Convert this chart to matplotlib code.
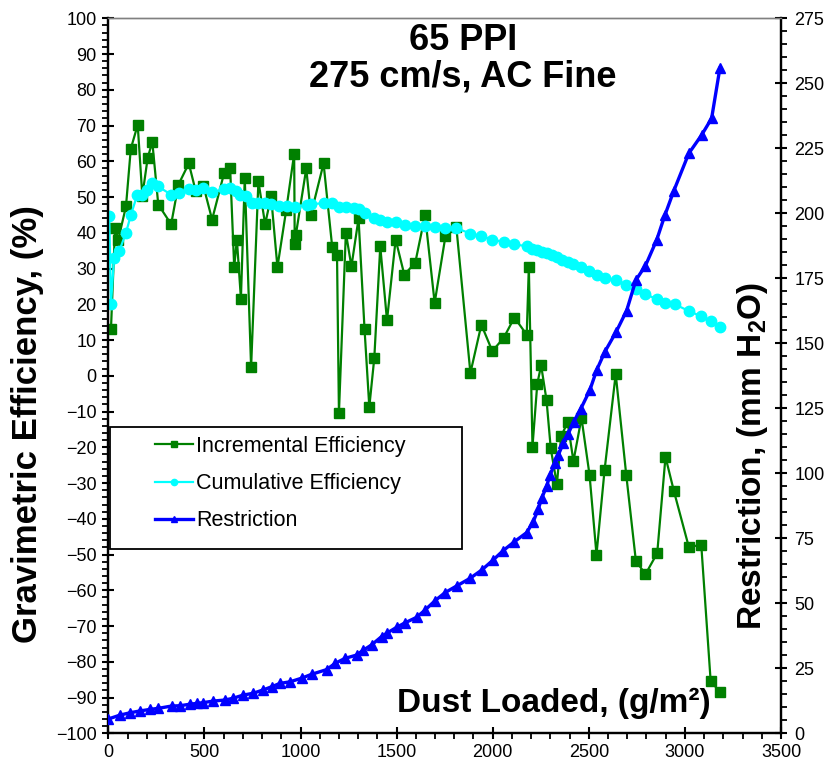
import matplotlib
matplotlib.use("Agg")
import matplotlib.pyplot as plt
from matplotlib.ticker import MultipleLocator
from matplotlib.patches import Rectangle

plt.rcParams['font.family'] = ['Liberation Sans', 'DejaVu Sans']
plt.rcParams['mathtext.fontset'] = 'custom'
plt.rcParams['mathtext.rm'] = 'Liberation Sans'
plt.rcParams['mathtext.bf'] = 'Liberation Sans:bold'

# ---------------- data ----------------
inc_x = [14, 35, 52, 92, 117, 153, 177, 205, 229, 260, 327, 365, 419, 455, 495, 540,
         603, 634, 655, 669, 690, 710, 743, 781, 816, 847, 880, 926, 967, 970, 976,
         1030, 1054, 1120, 1165, 1190, 1200, 1236, 1265, 1302, 1333, 1358, 1384, 1415,
         1450, 1495, 1540, 1597, 1648, 1698, 1754, 1811, 1884, 1941, 1998, 2057, 2113,
         2177, 2188, 2207, 2232, 2252, 2280, 2302, 2334, 2356, 2390, 2420, 2462, 2504,
         2540, 2582, 2640, 2695, 2745, 2795, 2856, 2899, 2943, 3021, 3085, 3134, 3182]
inc_y = [13.2, 41.4, 38.1, 47.4, 63.5, 70.2, 50.3, 61.0, 65.4, 47.9, 42.4, 53.5, 59.4,
         51.6, 53.1, 43.7, 56.8, 58.0, 30.4, 38.1, 21.6, 55.3, 2.4, 54.4, 42.4, 50.2,
         30.4, 46.5, 62.1, 36.8, 39.5, 58.0, 45.1, 59.4, 36.0, 33.7, -10.3, 40.0, 30.6,
         44.0, 13.2, -8.7, 5.0, 36.2, 15.5, 38.1, 28.3, 31.6, 44.9, 20.4, 39.0, 41.5,
         0.8, 14.3, 6.9, 10.6, 16.3, 11.5, 30.4, -19.8, -2.2, 2.9, -6.8, -20.3, -30.4,
         -16.9, -13.0, -23.9, -11.8, -27.8, -50.0, -26.4, 0.5, -27.8, -51.8, -55.5,
         -49.6, -22.7, -32.3, -48.0, -47.2, -85.4, -88.4]

cum_x = [5, 14, 30, 57, 92, 117, 151, 177, 200, 229, 257, 327, 368, 419, 455, 495,
         542, 603, 634, 665, 686, 716, 747, 781, 813, 847, 886, 929, 972, 1033, 1057,
         1120, 1165, 1198, 1238, 1276, 1306, 1337, 1380, 1415, 1450, 1497, 1542, 1597,
         1649, 1698, 1754, 1811, 1884, 1941, 1998, 2057, 2113, 2179, 2207, 2232, 2257,
         2283, 2309, 2335, 2361, 2391, 2420, 2460, 2503, 2544, 2583, 2643, 2696, 2747,
         2795, 2856, 2899, 2948, 3021, 3082, 3134, 3182]
cum_y = [44.6, 20.2, 33.0, 34.9, 40.0, 44.9, 50.7, 50.6, 51.9, 53.8, 53.0, 50.7, 51.0,
         52.2, 52.1, 52.4, 51.3, 52.2, 52.4, 51.7, 50.7, 50.3, 48.2, 48.2, 48.3, 48.0,
         47.4, 47.4, 47.2, 47.9, 48.0, 48.3, 48.4, 47.3, 47.1, 46.8, 46.6, 45.5, 44.0,
         43.7, 43.0, 42.9, 42.3, 41.9, 41.9, 41.6, 41.3, 41.3, 39.8, 39.1, 38.1, 37.4,
         36.8, 36.2, 35.6, 35.2, 34.7, 34.3, 33.8, 33.1, 32.5, 31.8, 31.3, 30.4, 29.3,
         28.1, 27.4, 26.7, 25.5, 24.4, 22.8, 21.4, 20.5, 20.0, 18.1, 16.7, 15.3, 13.6]

res_x = [0, 61, 113, 165, 217, 260, 330, 373, 425, 460, 494, 546, 607, 650, 702, 754,
         806, 850, 893, 945, 1006, 1058, 1136, 1180, 1231, 1292, 1327, 1370, 1422, 1449,
         1501, 1544, 1604, 1648, 1700, 1752, 1813, 1882, 1943, 2003, 2055, 2113, 2177,
         2211, 2237, 2255, 2281, 2298, 2324, 2341, 2367, 2393, 2421, 2457, 2505, 2541,
         2584, 2643, 2697, 2745, 2795, 2853, 2896, 2942, 3020, 3087, 3139, 3182]
res_y = [5.5, 7.0, 7.9, 8.6, 9.2, 9.6, 10.5, 10.6, 11.2, 11.5, 11.8, 12.4, 12.8, 13.5,
         14.7, 15.4, 16.7, 17.9, 19.2, 19.8, 21.2, 22.7, 24.5, 26.9, 28.8, 30.1, 32.0,
         34.0, 37.2, 38.5, 40.8, 42.5, 44.6, 47.4, 51.0, 54.1, 56.7, 59.6, 62.8, 66.7,
         70.3, 73.7, 77.2, 81.4, 86.2, 90.4, 95.1, 99.3, 103.8, 107.0, 111.5, 115.2,
         119.8, 124.6, 131.9, 139.7, 146.8, 154.5, 162.6, 174.3, 179.9, 189.7, 199.3,
         208.6, 223.0, 230.1, 236.5, 255.8]

labels = ['Incremental Efficiency', 'Cumulative Efficiency', 'Restriction']
title_lines = ['65 PPI', '275 cm/s, AC Fine']

# ---------------- figure ----------------
W, H = 834, 768
fig = plt.figure(figsize=(W / 100, H / 100), dpi=100)
L, R, T, B = 108.3, 781.0, 18.3, 733.3
ax = fig.add_axes([L / W, 1 - B / H, (R - L) / W, (B - T) / H])
ax2 = ax.twinx()

l1, = ax.plot(inc_x, inc_y, color='#008000', lw=1.6, marker='s', ms=7.5,
              mec='#008000', mfc='#008000', zorder=3)
l2, = ax.plot(cum_x, cum_y, color='#00FFFF', lw=1.6, marker='o', ms=7.5,
              mec='#00FFFF', mfc='#00FFFF', zorder=4)
l3, = ax2.plot(res_x, res_y, color='#0000FF', lw=2.4, marker='^', ms=6.5,
               mec='#0000FF', mfc='#0000FF', zorder=5)

ax.set_xlim(0, 3500)
ax.set_ylim(-100, 100)
ax2.set_ylim(0, 275)

ax.xaxis.set_major_locator(MultipleLocator(500))
ax.xaxis.set_minor_locator(MultipleLocator(100))
ax.yaxis.set_major_locator(MultipleLocator(10))
ax.yaxis.set_minor_locator(MultipleLocator(2))
ax2.yaxis.set_major_locator(MultipleLocator(25))
ax2.yaxis.set_minor_locator(MultipleLocator(5))

for a in (ax, ax2):
    a.tick_params(which='major', direction='inout', length=9, width=1.5,
                  labelsize=13, colors='black')
    a.tick_params(which='minor', direction='out', length=4, width=1.3)
ax.tick_params(axis='y', pad=4)
ax.tick_params(axis='x', pad=3)
ax2.tick_params(axis='y', pad=5)

for a in (ax, ax2):
    for s in ('left', 'right', 'bottom'):
        a.spines[s].set_linewidth(1.6)
        a.spines[s].set_color('black')
    a.spines['top'].set_color('#808080')
    a.spines['top'].set_linewidth(1.0)

# labels
fig.text(28 / W, 1 - 424 / H, 'Gravimetric Efficiency, (%)', rotation=90,
         ha='center', va='center', fontsize=25, fontweight='bold')
ax.text((752 - L) / (R - L), (B - 630) / (B - T), r'Restriction, (mm H$_{\mathbf{2}}$O)',
        transform=ax.transAxes, rotation=90, ha='center', va='bottom',
        fontsize=24, fontweight='bold', zorder=10)
ax.text((711 - L) / (R - L), (B - 712) / (B - T), 'Dust Loaded, (g/m\u00b2)',
        transform=ax.transAxes, ha='right', va='baseline',
        fontsize=24, fontweight='bold', zorder=10)

fig.text(463 / W, 1 - 50 / H, title_lines[0], ha='center', va='baseline',
         fontsize=26, fontweight='bold')
fig.text(463 / W, 1 - 86 / H, title_lines[1], ha='center', va='baseline',
         fontsize=26, fontweight='bold')

# legend box
bx0, bx1, by0, by1 = 110, 462, 427, 549
rect = Rectangle(((bx0 - L) / (R - L), (B - by1) / (B - T)),
                 (bx1 - bx0) / (R - L), (by1 - by0) / (B - T),
                 transform=ax2.transAxes, facecolor='white', edgecolor='black',
                 lw=1.3, zorder=20, clip_on=False)
ax2.add_patch(rect)
leg = ax2.legend([l1, l2, l3], labels, loc='upper left',
                 bbox_to_anchor=((155 - L) / (R - L), (B - 436) / (B - T)),
                 borderaxespad=0, borderpad=0, frameon=False, fontsize=15.5,
                 handlelength=1.75, handletextpad=0.15, labelspacing=0.75,
                 markerscale=0.6, numpoints=1)
leg.set_zorder(21)

fig.savefig('out.png', dpi=100)
